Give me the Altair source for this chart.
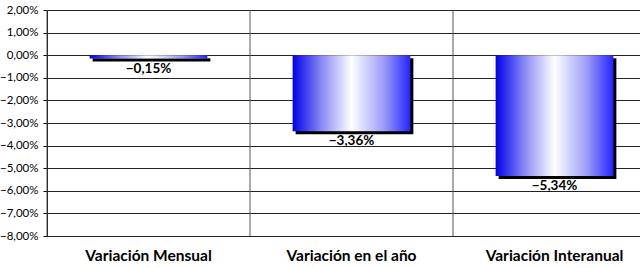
import altair as alt
import pandas as pd

categories = ["Variación Mensual", "Variación en el año", "Variación Interanual"]
values = [-0.15, -3.36, -5.34]
y_ticks = [2, 1, 0, -1, -2, -3, -4, -5, -6, -7, -8]

df = pd.DataFrame({"cat": categories, "value": values})

FONT = "Lato"
fmt = "replace(format(datum.value, '.2f'), '.', ',') + '%'"

xscale = alt.Scale(domain=categories, range=[0, 609], paddingInner=0.42, paddingOuter=0.21)
x = alt.X(
    "cat:N",
    scale=xscale,
    sort=categories,
    axis=alt.Axis(
        title=None, labelAngle=0, labelFont=FONT, labelFontSize=15.5,
        labelFontWeight="bold", labelColor="black", labelPadding=12,
        ticks=False, domain=False, grid=False,
    ),
)
yscale = alt.Scale(domain=[-8, 2], nice=False)
yaxis = alt.Axis(
    title=None, values=y_ticks, labelExpr=fmt, grid=True, gridColor="#222",
    gridOpacity=1, domainColor="black", tickColor="black", tickSize=4,
    labelPadding=5, labelFont=FONT, labelFontSize=11.5, labelColor="black",
    labelOverlap=False,
)
y = alt.Y("value:Q", scale=yscale, axis=yaxis)

gradient = alt.LinearGradient(
    gradient="linear", x1=0, y1=0, x2=1, y2=0,
    stops=[
        alt.GradientStop(color="#0000e8", offset=0),
        alt.GradientStop(color="#8c8cf6", offset=0.25),
        alt.GradientStop(color="#ffffff", offset=0.5),
        alt.GradientStop(color="#9a9af8", offset=0.78),
        alt.GradientStop(color="#2424ff", offset=1),
    ],
)

base = alt.Chart(df)

rules = base.mark_rule(color="#555", strokeWidth=1).encode(
    x=alt.X("cat:N", sort=categories, bandPosition=0,
            scale=alt.Scale(domain=categories, range=[0, 609], paddingInner=0, paddingOuter=0),
            axis=None),
    y=alt.Y(datum=2, scale=yscale, axis=yaxis),
    y2=alt.datum(-8),
)

shadow = base.mark_bar(color="black", xOffset=3, yOffset=3, y2Offset=3).encode(x=x, y=y)
bars = base.mark_bar(color=gradient).encode(x=x, y=y)
labels = base.mark_text(
    baseline="top", dy=3, font=FONT, fontSize=13.5, fontWeight="bold", color="black"
).transform_calculate(label=fmt).encode(x=x, y=y, text="label:N")

chart = (
    alt.layer(rules, alt.layer(shadow, bars, labels))
    .resolve_scale(x="independent")
    .properties(
        width=593, height=226,
        autosize=alt.AutoSizeParams(type="none"),
        padding={"left": 47, "top": 10, "right": 0, "bottom": 32},
        background="white",
    )
    .configure_view(stroke=None)
)

chart.save("out.html", embed_options={"renderer": "svg", "actions": False})
